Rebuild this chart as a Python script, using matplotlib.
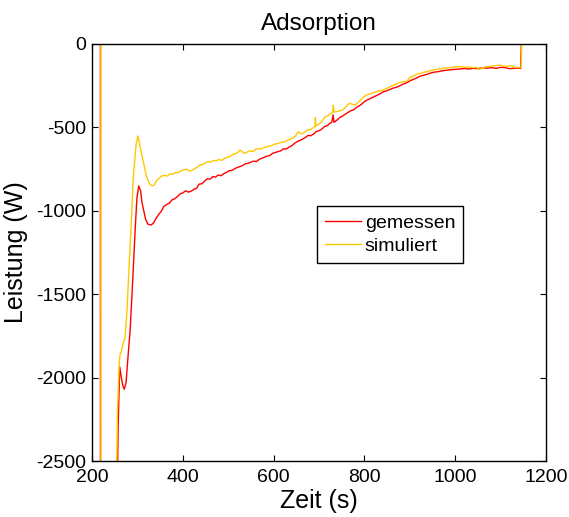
import matplotlib
matplotlib.use("Agg")
import matplotlib.pyplot as plt

plt.rcParams["font.family"] = ["Liberation Sans", "DejaVu Sans"]
plt.rcParams["axes.unicode_minus"] = False

# gemessen (red)
t_mess = [200, 218.5, 218.6, 256, 257.5, 261, 264, 268, 271, 275, 280, 284, 290, 295,
          299, 303, 307, 310, 314, 318, 323, 330, 335,
          340, 346, 352, 358, 364, 370, 376, 382, 388, 394, 400, 406, 412, 418, 424,
          430, 436, 442, 448, 454, 460, 466, 472, 478, 484, 490, 496, 502, 508, 514,
          520, 526, 532, 538, 544, 550, 556, 562, 568, 574, 580, 586, 592, 598, 604,
          610, 616, 622, 628, 634, 640, 646, 652, 658, 664, 670, 676, 682, 688, 694,
          700, 706, 712, 718, 724, 728, 731, 733, 740, 746, 752, 758, 764, 770, 776,
          782, 788, 794, 800, 806, 812, 818, 824, 830, 836, 842, 848, 854, 860, 866,
          872, 878, 884, 890, 896, 902, 908, 914, 920, 926, 932, 940, 948, 956, 964,
          972, 980, 990, 1000, 1010, 1020, 1030, 1040, 1050, 1060, 1070, 1080, 1090,
          1100, 1110, 1120, 1130, 1140, 1144, 1145.5, 1150]
p_mess = [0, 0, -2600, -2600, -2300, -1935, -1990, -2050, -2070, -2030, -1850, -1715,
          -1400, -1115, -920, -851, -880, -950, -1000, -1050, -1080, -1085, -1075,
          -1050, -1025, -1005, -975, -962, -955, -935, -928, -915, -898, -893, -880,
          -888, -883, -872, -865, -840, -838, -822, -808, -810, -795, -798, -785, -790,
          -778, -770, -760, -758, -748, -740, -735, -728, -718, -715, -708, -702, -705,
          -692, -685, -678, -672, -668, -655, -650, -645, -640, -628, -630, -618, -610,
          -595, -585, -578, -570, -560, -548, -550, -540, -525, -520, -510, -495, -490,
          -475, -470, -425, -470, -455, -440, -432, -420, -410, -400, -395, -380, -372,
          -360, -345, -336, -328, -320, -312, -305, -295, -286, -282, -275, -268, -262,
          -258, -250, -242, -236, -228, -218, -212, -205, -196, -190, -186, -180, -172,
          -168, -165, -160, -158, -154, -152, -150, -147, -150, -146, -148, -142, -145,
          -142, -146, -140, -142, -148, -145, -146, -146, 0, 0]

# simuliert (yellow)
t_sim = [200, 219.5, 219.6, 254, 256, 260, 262, 264.6, 268, 272.7, 277, 282, 287, 291,
         297, 301, 305, 309, 315, 320, 327, 332, 337,
         342, 348, 354, 360, 366, 372, 378, 384, 390, 396, 402, 408, 414, 420, 426,
         432, 438, 444, 450, 456, 462, 468, 474, 480, 486, 492, 498, 504, 510, 516,
         522, 526, 530, 536, 542, 548, 554, 560, 566, 572, 578, 584, 590, 596, 602,
         608, 614, 620, 626, 632, 638, 644, 650, 654, 658, 664, 670, 676, 682, 688,
         691, 692, 693, 700, 706, 712, 718, 724, 730, 731.5, 733, 740, 746, 752, 758,
         764, 768, 774, 780, 786, 792, 798, 804, 810, 816, 822, 828, 834, 840, 846,
         852, 858, 864, 870, 876, 882, 888, 894, 900, 906, 912, 918, 924, 930, 938,
         946, 954, 962, 970, 980, 990, 1000, 1010, 1020, 1030, 1040, 1046, 1054, 1062,
         1069, 1078, 1088, 1099, 1106, 1113, 1120, 1126, 1132, 1139, 1145, 1146.5, 1150]
p_sim = [0, 0, -2600, -2600, -2200, -1913, -1860, -1845, -1800, -1763, -1600, -1314,
         -1050, -795, -605, -551, -600, -655, -730, -795, -840, -851, -845,
         -820, -805, -790, -788, -792, -778, -780, -770, -772, -760, -755, -750, -762,
         -758, -748, -738, -725, -722, -712, -705, -708, -698, -700, -692, -698, -685,
         -680, -675, -662, -658, -648, -635, -645, -655, -648, -640, -645, -632, -628,
         -630, -622, -618, -612, -608, -600, -598, -592, -588, -585, -575, -570, -562,
         -545, -525, -535, -538, -525, -515, -512, -500, -495, -440, -492, -480, -465,
         -440, -432, -420, -410, -366, -408, -405, -400, -396, -380, -362, -356, -362,
         -366, -350, -335, -318, -306, -300, -296, -290, -285, -280, -276, -270, -262,
         -255, -246, -240, -232, -228, -225, -222, -200, -194, -186, -178, -176, -170,
         -165, -158, -155, -150, -148, -144, -142, -138, -136, -140, -138, -142, -140,
         -152, -140, -136, -134, -130, -126, -132, -136, -130, -133, -140, -142, -140,
         0, 0]

x_ticks = [200, 400, 600, 800, 1000, 1200]
y_ticks = [-2500, -2000, -1500, -1000, -500, 0]

fig = plt.figure(figsize=(5.69, 5.17), dpi=100)
ax = fig.add_axes([0.1617, 0.1083, 0.798, 0.8066])

ax.plot(t_mess, p_mess, color="#ff0000", lw=1.0, label="gemessen")
ax.plot(t_sim, p_sim, color="#ffc800", lw=1.0, label="simuliert")

ax.set_xlim(200, 1200)
ax.set_ylim(-2500, 0)
ax.set_xticks(x_ticks)
ax.set_yticks(y_ticks)
ax.tick_params(direction="in", top=True, right=True, length=4, width=0.8,
               labelsize=14)
ax.tick_params(axis="x", pad=6)
ax.tick_params(axis="y", pad=4)
for s in ax.spines.values():
    s.set_linewidth(1.0)

ax.set_title("Adsorption", fontsize=17.5, pad=10)
ax.set_xlabel("Zeit (s)", fontsize=18, labelpad=2)
ax.set_ylabel("Leistung (W)", fontsize=18, labelpad=6)

leg = ax.legend(loc="upper left", bbox_to_anchor=(0.496, 0.611), fontsize=14,
                frameon=True, fancybox=False, edgecolor="black", framealpha=1,
                handlelength=1.85, borderpad=0.4, labelspacing=0.3,
                handletextpad=0.2, borderaxespad=0)
leg.get_frame().set_linewidth(1.0)

fig.savefig("out.png", dpi=100)
